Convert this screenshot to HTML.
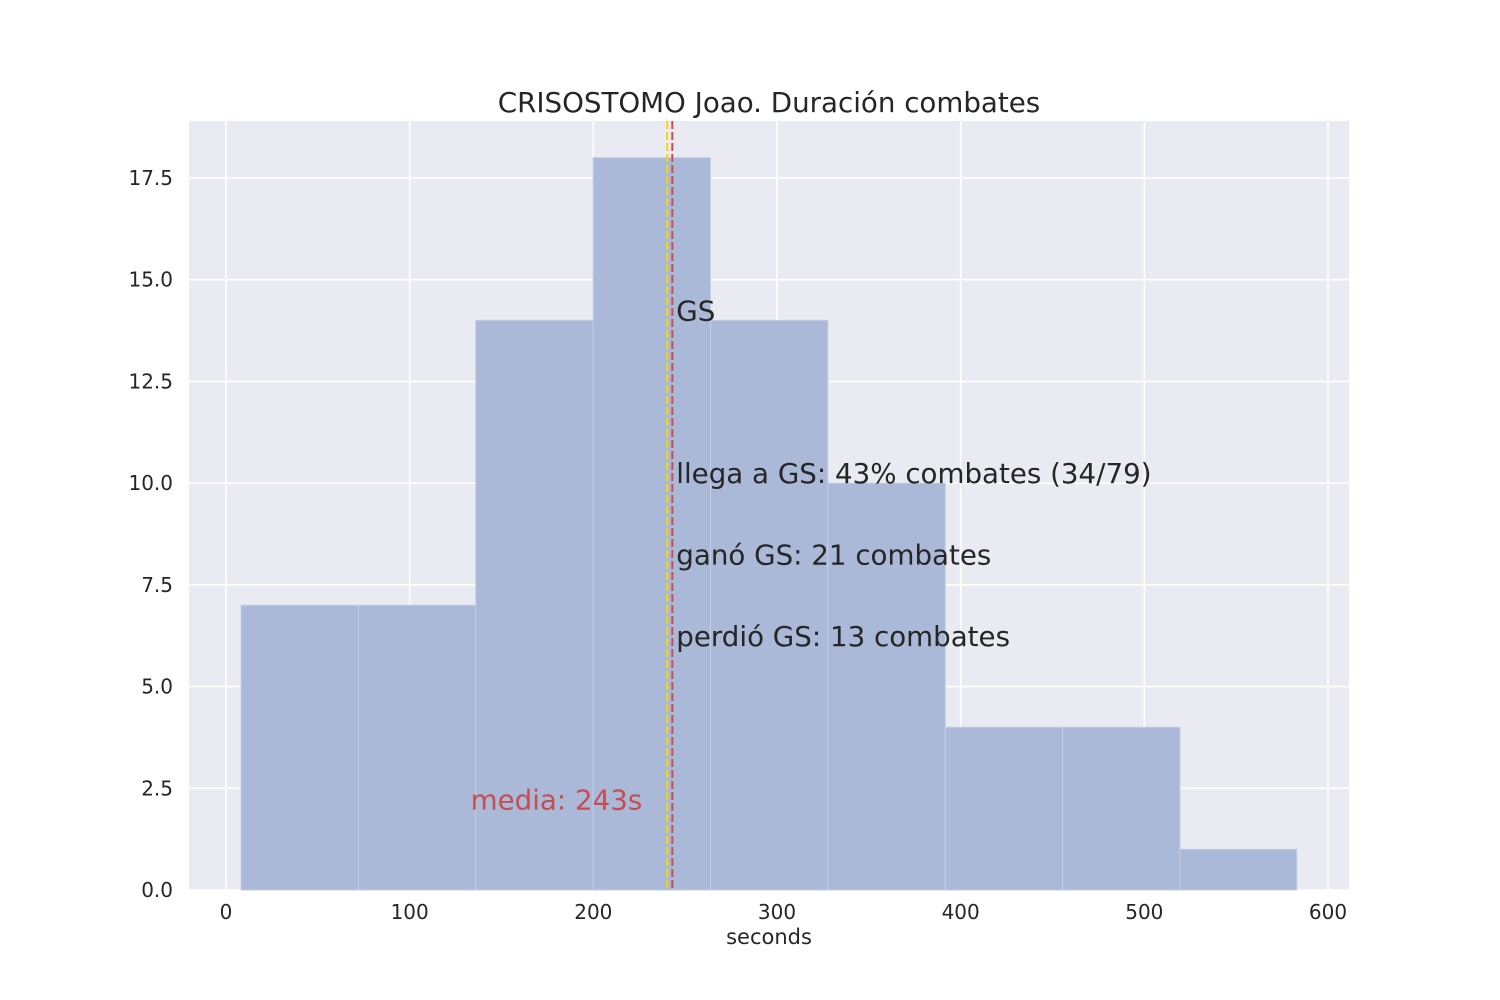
<!DOCTYPE html>
<html><head><meta charset="utf-8">
<style>
html,body{margin:0;padding:0;background:#fff;}
svg{display:block;font-family:"DejaVu Sans","Liberation Sans",sans-serif;}
</style></head>
<body>
<svg id="chart" width="1500" height="1000">
<rect x="189" y="121" width="1160" height="769" fill="#eaeaf2"/>
<g id="grid"></g>
<g id="bars"></g>
<g id="lines"></g>
<g id="ticks"></g>
<g id="notes"></g>
<text x="769" y="112" text-anchor="middle" font-size="27.7" fill="#262626">CRISOSTOMO Joao. Duración combates</text>
<text x="769" y="944" text-anchor="middle" font-size="21" fill="#262626">seconds</text>
</svg>
<script>
const binEdges=[8.2,72.1,136.0,199.9,263.8,327.7,391.6,455.5,519.4,583.0];
const counts=[7,7,14,18,14,10,4,4,1];
const xTicks=[0,100,200,300,400,500,600];
const yTicks=[0,2.5,5,7.5,10,12.5,15,17.5];
const gsLine=240.2;
const meanValue=243;
const notes=[{t:"GS",y:14},{t:"llega a GS: 43% combates (34/79)",y:10},{t:"ganó GS: 21 combates",y:8},{t:"perdió GS: 13 combates",y:6}];
const meanLabelY=2;

const NS="http://www.w3.org/2000/svg";
const X=v=>226+v*(1102/600);
const Y=v=>890-v*(712/17.5);
function mk(tag,attrs,parent){const e=document.createElementNS(NS,tag);for(const k in attrs)e.setAttribute(k,attrs[k]);document.getElementById(parent).appendChild(e);return e;}

xTicks.forEach(t=>{
  const l=mk("line",{x1:X(t),x2:X(t),y1:121,y2:890,stroke:"#fff","stroke-width":1.6},"grid");
  
  
  const tx=mk("text",{x:X(t),y:919,"text-anchor":"middle","font-size":20,fill:"#262626"},"ticks");
  tx.textContent=t;
  
  
});
yTicks.forEach(t=>{
  const l=mk("line",{x1:189,x2:1349,y1:Y(t),y2:Y(t),stroke:"#fff","stroke-width":1.6},"grid");
  
  
  const tx=mk("text",{x:173,y:Y(t)+7,"text-anchor":"end","font-size":20,fill:"#262626"},"ticks");
  tx.textContent=t.toFixed(1);
  
  
});
counts.forEach((c,i)=>{
  const x0=X(binEdges[i]),x1=X(binEdges[i+1]);
  const r=mk("rect",{x:x0,y:Y(c),width:x1-x0,height:Y(0)-Y(c),fill:"#aab9d7",stroke:"#c3cde3","stroke-width":1},"bars");
  
  
});
const g=mk("line",{x1:X(gsLine),x2:X(gsLine),y1:121,y2:890,stroke:"#ffd200","stroke-width":2,"stroke-dasharray":"8,3"},"lines");


const m=mk("line",{x1:X(meanValue),x2:X(meanValue),y1:121,y2:890,stroke:"#c44e52","stroke-width":2,"stroke-dasharray":"8,3"},"lines");


notes.forEach(n=>{
  const t=mk("text",{x:X(meanValue)+4,y:Y(n.y),"font-size":27.7,fill:"#262626"},"notes");
  t.textContent=n.t;
  
  
});
const ml=mk("text",{x:X(meanValue)-30,y:Y(meanLabelY)+1,"text-anchor":"end","font-size":27.7,fill:"#c44e52"},"notes");
ml.textContent="media: "+meanValue+"s";


</script>
</body></html>
